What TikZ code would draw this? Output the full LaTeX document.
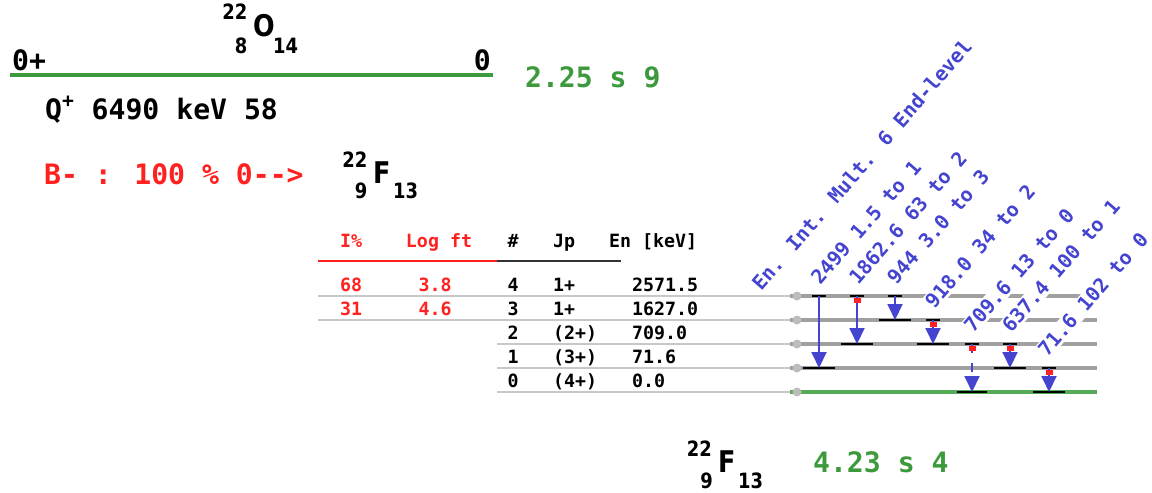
\documentclass[tikz,border=0pt]{standalone}
\usepackage{fontspec}
\setmainfont{DejaVu Sans}
\newfontfamily\monob{DejaVu Sans Mono}
\newfontfamily\nucfont{DejaVu Sans}[FakeStretch=0.85]
\usetikzlibrary{arrows.meta}
\definecolor{decaygreen}{HTML}{3C9A3C}
\definecolor{levgreen}{HTML}{55AA55}
\definecolor{decayred}{HTML}{FF2020}
\definecolor{gammablue}{HTML}{4444D0}
\definecolor{levelgray}{HTML}{A0A0A0}
\definecolor{rulegray}{HTML}{C8C8C8}

\begin{document}
\begin{tikzpicture}[every node/.style={inner sep=1pt},
  bigtxt/.style={font=\monob\bfseries\fontsize{16}{18}\selectfont},
  tabtxt/.style={font=\monob\bfseries\fontsize{10.4}{12}\selectfont},
  gtxt/.style={font=\monob\bfseries\fontsize{11.3}{13}\selectfont, text=gammablue, rotate=49, anchor=base west, fill=white},
  elem/.style={font=\nucfont\bfseries\fontsize{17}{19}\selectfont, anchor=base west},
  nucnum/.style={font=\nucfont\bfseries\fontsize{12}{14}\selectfont},
  thinline/.style={rulegray, line width=0.6pt},
  levline/.style={levelgray, line width=1.8pt},
  bar/.style={black, line width=1.1pt},
  gam/.style={gammablue, line width=1.1pt, -{Triangle[length=0.32cm, width=0.30cm]}}]
  \useasboundingbox (0,0) rectangle (23.04,-9.84);

  % --- Parent: 22O ---
  \node[elem] (pO) at (5.02,-0.72) {O};
  \node[nucnum, anchor=base east] (pOa) at (4.99,-0.38) {22};
  \node[nucnum, anchor=base east] (pOz) at (4.99,-1.06) {8};
  \node[nucnum, anchor=base west] (pOn) at (5.42,-1.06) {14};
  \node[bigtxt, anchor=base west] (pjp) at (0.20,-1.40) {0+};
  \node[bigtxt, anchor=base east] (pen) at (9.86,-1.40) {0};
  \draw[decaygreen, line width=2pt] (0.2,-1.5) -- (9.86,-1.5);
  \node[bigtxt, text=decaygreen, anchor=base west] (phalf) at (10.46,-1.74) {2.25 s 9};
  \node[bigtxt, anchor=base west] (qval) at (0.86,-2.38) {Q\textsuperscript{+} 6490 keV 58};
  \node[bigtxt, text=decayred, anchor=base west] (bmode) at (0.84,-3.68) {B- : 100 \% 0-{}->};

  % --- Daughter label ---
  \node[elem] (dF) at (7.42,-3.66) {F};
  \node[nucnum, anchor=base east] (dFa) at (7.39,-3.34) {22};
  \node[nucnum, anchor=base east] (dFz) at (7.39,-3.96) {9};
  \node[nucnum, anchor=base west] (dFn) at (7.82,-3.96) {13};

  % --- Table header ---
  \node[tabtxt, text=decayred, anchor=base] (hint) at (7.02,-4.94) {I\%};
  \node[tabtxt, text=decayred, anchor=base] (hlog) at (8.78,-4.94) {Log ft};
  \node[tabtxt, anchor=base] (hnum) at (10.26,-4.94) {\#};
  \node[tabtxt, anchor=base west] (hjp) at (11.02,-4.94) {Jp};
  \node[tabtxt, anchor=base west] (hen) at (12.14,-4.94) {En [keV]};
  \draw[decayred, line width=1pt] (6.36,-5.22) -- (9.94,-5.22);
  \draw[black!80, line width=1pt] (9.94,-5.22) -- (12.42,-5.22);

  % --- Level lines ---
  \draw[thinline] (6.36,-5.92) -- (21.94,-5.92);
  \draw[thinline] (6.36,-6.40) -- (21.94,-6.40);
  \draw[thinline] (9.94,-6.88) -- (21.94,-6.88);
  \draw[thinline] (9.94,-7.36) -- (21.94,-7.36);
  \draw[thinline] (9.94,-7.84) -- (21.94,-7.84);
  \draw[levline] (15.80,-5.92) -- (21.94,-5.92);
  \draw[levline] (15.80,-6.40) -- (21.94,-6.40);
  \draw[levline] (15.80,-6.88) -- (21.94,-6.88);
  \draw[levline] (15.80,-7.36) -- (21.94,-7.36);
  \draw[levgreen, line width=1.8pt] (15.80,-7.84) -- (21.94,-7.84);
  \fill[levelgray!70] (15.94,-5.92) circle (0.09);
  \fill[levelgray!70] (15.94,-6.40) circle (0.09);
  \fill[levelgray!70] (15.94,-6.88) circle (0.09);
  \fill[levelgray!70] (15.94,-7.36) circle (0.09);
  \fill[levelgray!70] (15.94,-7.84) circle (0.09);

  % --- Table rows ---
  \node[tabtxt, text=decayred, anchor=base] (r4i) at (7.02,-5.83) {68};
  \node[tabtxt, text=decayred, anchor=base] (r4l) at (8.70,-5.83) {3.8};
  \node[tabtxt, anchor=base] (r4n) at (10.26,-5.83) {4};
  \node[tabtxt, anchor=base west] (r4j) at (11.02,-5.83) {1+};
  \node[tabtxt, anchor=base west] (r4e) at (12.60,-5.83) {2571.5};
  \node[tabtxt, text=decayred, anchor=base] (r3i) at (7.02,-6.31) {31};
  \node[tabtxt, text=decayred, anchor=base] (r3l) at (8.70,-6.31) {4.6};
  \node[tabtxt, anchor=base] (r3n) at (10.26,-6.31) {3};
  \node[tabtxt, anchor=base west] (r3j) at (11.02,-6.31) {1+};
  \node[tabtxt, anchor=base west] (r3e) at (12.60,-6.31) {1627.0};
  \node[tabtxt, anchor=base] (r2n) at (10.26,-6.79) {2};
  \node[tabtxt, anchor=base west] (r2j) at (11.02,-6.79) {(2+)};
  \node[tabtxt, anchor=base west] (r2e) at (12.60,-6.79) {709.0};
  \node[tabtxt, anchor=base] (r1n) at (10.26,-7.27) {1};
  \node[tabtxt, anchor=base west] (r1j) at (11.02,-7.27) {(3+)};
  \node[tabtxt, anchor=base west] (r1e) at (12.60,-7.27) {71.6};
  \node[tabtxt, anchor=base] (r0n) at (10.26,-7.75) {0};
  \node[tabtxt, anchor=base west] (r0j) at (11.02,-7.75) {(4+)};
  \node[tabtxt, anchor=base west] (r0e) at (12.60,-7.75) {0.0};

  % --- Gamma labels (white boxes cut the level lines) ---
  \node[gtxt] (lhead) at (15.20,-5.86) {En. Int. Mult. 6 End-level};
  \node[gtxt] (lg1) at (16.38,-5.75) {2499 1.5 to 1};
  \node[gtxt] (lg2) at (17.14,-5.75) {1862.6 63 to 2};
  \node[gtxt] (lg3) at (17.90,-5.75) {944 3.0 to 3};
  \node[gtxt] (lg4) at (18.66,-6.23) {918.0 34 to 2};
  \node[gtxt] (lg5) at (19.44,-6.71) {709.6 13 to 0};
  \node[gtxt] (lg6) at (20.20,-6.71) {637.4 100 to 1};
  \node[gtxt] (lg7) at (20.92,-7.19) {71.6 102 to 0};

  % --- Level bars ---
  \draw[bar] (16.24,-5.92) -- (16.52,-5.92);
  \draw[bar] (17.00,-5.92) -- (17.28,-5.92);
  \draw[bar] (17.76,-5.92) -- (18.04,-5.92);
  \draw[bar] (18.52,-6.40) -- (18.80,-6.40);
  \draw[bar] (19.30,-6.88) -- (19.58,-6.88);
  \draw[bar] (20.06,-6.88) -- (20.34,-6.88);
  \draw[bar] (20.84,-7.36) -- (21.12,-7.36);
  \draw[bar] (16.06,-7.36) -- (16.70,-7.36);
  \draw[bar] (16.82,-6.88) -- (17.46,-6.88);
  \draw[bar] (17.58,-6.40) -- (18.22,-6.40);
  \draw[bar] (18.34,-6.88) -- (18.98,-6.88);
  \draw[bar] (19.14,-7.84) -- (19.74,-7.84);
  \draw[bar] (19.88,-7.36) -- (20.52,-7.36);
  \draw[bar] (20.66,-7.84) -- (21.30,-7.84);

  % --- Gammas ---
  \coordinate (g1a) at (16.38,-5.92); \coordinate (g1b) at (16.38,-7.36);
  \coordinate (g2a) at (17.14,-5.92); \coordinate (g2b) at (17.14,-6.88);
  \coordinate (g3a) at (17.90,-5.92); \coordinate (g3b) at (17.90,-6.40);
  \coordinate (g4a) at (18.66,-6.40); \coordinate (g4b) at (18.66,-6.88);
  \coordinate (g5a) at (19.44,-6.88); \coordinate (g5b) at (19.44,-7.84);
  \coordinate (g6a) at (20.20,-6.88); \coordinate (g6b) at (20.20,-7.36);
  \coordinate (g7a) at (20.98,-7.36); \coordinate (g7b) at (20.98,-7.84);
  \draw[gam] (g1a) -- (g1b);
  \draw[gam] (g2a) -- (g2b);
  \draw[gam] (g3a) -- (g3b);
  \draw[gam] (g4a) -- (g4b);
  \draw[gam, dash pattern=on 5pt off 6pt] (g5a) -- (g5b);
  \draw[gam] (g6a) -- (g6b);
  \draw[gam] (g7a) -- (g7b);
  % red marks: fed from the top
  \fill[decayred] ([xshift=-0.07cm, yshift=-0.03cm]g2a) rectangle ([xshift=0.07cm, yshift=-0.13cm]g2a);
  \fill[decayred] ([xshift=-0.07cm, yshift=-0.03cm]g4a) rectangle ([xshift=0.07cm, yshift=-0.13cm]g4a);
  \fill[decayred] ([xshift=-0.07cm, yshift=-0.03cm]g5a) rectangle ([xshift=0.07cm, yshift=-0.13cm]g5a);
  \fill[decayred] ([xshift=-0.07cm, yshift=-0.03cm]g6a) rectangle ([xshift=0.07cm, yshift=-0.13cm]g6a);
  \fill[decayred] ([xshift=-0.07cm, yshift=-0.03cm]g7a) rectangle ([xshift=0.07cm, yshift=-0.13cm]g7a);

  % --- Daughter ground state ---
  \node[elem] (gF) at (14.32,-9.44) {F};
  \node[nucnum, anchor=base east] (gFa) at (14.28,-9.12) {22};
  \node[nucnum, anchor=base east] (gFz) at (14.30,-9.76) {9};
  \node[nucnum, anchor=base west] (gFn) at (14.72,-9.76) {13};
  \node[bigtxt, text=decaygreen, anchor=base west] (dhalf) at (16.22,-9.44) {4.23 s 4};
\end{tikzpicture}
\end{document}
